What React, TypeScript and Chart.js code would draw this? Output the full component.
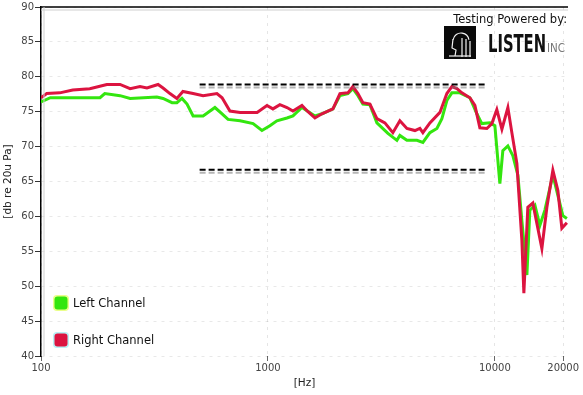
import React, { useEffect, useRef } from "react";
import { Chart, registerables } from "chart.js";

Chart.register(...registerables);

// ---- data ----
const xTickValues = [100, 1000, 10000, 20000];
const xMin = 100;
const xMax = 21000;
const yMin = 40;
const yMax = 90;
const yStep = 5;

const rightFreq = [100, 106, 121, 138, 164, 195, 223, 247, 273, 293, 328, 345, 370, 397, 422, 468, 518, 596, 628, 680, 754, 896, 990, 1052, 1129, 1213, 1289, 1412, 1501, 1611, 1730, 1934, 2076, 2251, 2368, 2492, 2621, 2814, 3021, 3276, 3552, 3814, 4096, 4443, 4673, 4817, 5172, 5726, 6144, 6463, 6803, 7156, 7761, 8164, 8588, 9220, 9700, 10200, 10740, 11410, 11880, 12500, 13150, 13420, 13970, 14700, 16110, 16950, 18010, 18950, 19730, 20760];
const rightDb = [77.0, 77.6, 77.7, 78.1, 78.3, 78.9, 78.9, 78.3, 78.6, 78.4, 78.9, 78.4, 77.6, 76.9, 77.9, 77.6, 77.3, 77.6, 77.0, 75.1, 74.9, 74.9, 75.9, 75.4, 76.0, 75.6, 75.1, 75.9, 75.0, 74.1, 74.7, 75.4, 77.6, 77.7, 78.6, 77.6, 76.3, 76.1, 74.0, 73.4, 72.0, 73.7, 72.6, 72.3, 72.6, 72.0, 73.4, 74.9, 77.6, 78.6, 78.3, 77.7, 77.0, 75.9, 72.7, 72.6, 73.3, 75.3, 72.5, 75.6, 72.0, 67.6, 56.6, 49.0, 61.3, 61.9, 55.4, 61.3, 66.6, 63.7, 58.3, 59.1];

const leftFreq = [100, 110, 182, 191, 223, 247, 324, 345, 378, 397, 418, 440, 468, 518, 584, 628, 667, 754, 860, 941, 1020, 1095, 1213, 1289, 1412, 1611, 1730, 1934, 2076, 2251, 2368, 2492, 2621, 2814, 3021, 3378, 3701, 3814, 4096, 4534, 4817, 5172, 5553, 5841, 6144, 6463, 7010, 7761, 8330, 8760, 9510, 10000, 10520, 10840, 11410, 12000, 12630, 13150, 13840, 14260, 15010, 15780, 16610, 18010, 18950, 19930, 20760];
const leftDb = [76.4, 77.0, 77.0, 77.6, 77.3, 76.9, 77.1, 76.9, 76.3, 76.3, 76.9, 76.1, 74.4, 74.4, 75.6, 74.7, 73.9, 73.7, 73.3, 72.3, 73.0, 73.7, 74.1, 74.4, 75.6, 74.4, 74.7, 75.4, 77.3, 77.6, 78.3, 77.3, 76.1, 76.0, 73.4, 71.9, 70.9, 71.6, 70.9, 70.9, 70.6, 72.0, 72.6, 74.0, 76.6, 77.7, 77.7, 77.0, 74.7, 73.3, 73.4, 73.0, 64.7, 69.4, 70.1, 68.7, 65.9, 59.4, 51.6, 60.9, 61.6, 58.7, 60.9, 65.9, 63.0, 60.1, 59.7];

const limitFreq = [500, 9200];
const upperLimit = [78.9, 78.9];
const lowerLimit = [66.7, 66.7];

const legendLabels = ["Left Channel", "Right Channel"];
const logoCaption = "Testing Powered by:";
const logoName = "LISTEN";
const logoSuffix = "INC";
const xTitle = "[Hz]";
const yTitle = "[db re 20u Pa]";

// ---- styles ----
const GREEN = "#33e60f";
const RED = "#dc1440";
const FONT = "'DejaVu Sans', Verdana, sans-serif";

const toPoints = (xs: number[], ys: number[]) => xs.map((x, i) => ({ x, y: ys[i] }));

const overlayPlugin = {
  id: "overlay",
  beforeDatasetDraw(chart: any, args: any) {
    const ds = chart.data.datasets[args.index];
    if (ds.isLimit) {
      const ctx = chart.ctx;
      ctx.save();
      ctx.shadowColor = "rgba(120,120,120,0.55)";
      ctx.shadowOffsetY = 3;
      ctx.shadowOffsetX = 0;
      ctx.shadowBlur = 0;
    }
  },
  afterDatasetDraw(chart: any, args: any) {
    const ds = chart.data.datasets[args.index];
    if (ds.isLimit) chart.ctx.restore();
  },
  afterDraw(chart: any) {
    const { ctx, chartArea: ca } = chart;
    ctx.save();
    // top frame line
    ctx.strokeStyle = "#000";
    ctx.lineWidth = 1.5;
    ctx.beginPath();
    ctx.moveTo(ca.left, ca.top);
    ctx.lineTo(ca.right, ca.top);
    ctx.stroke();
    ctx.strokeStyle = "#cfcfcf";
    ctx.lineWidth = 1;
    ctx.beginPath();
    ctx.moveTo(ca.left, ca.top + 3);
    ctx.lineTo(ca.right, ca.top + 3);
    ctx.stroke();
    ctx.beginPath();
    ctx.moveTo(ca.left + 3, ca.top);
    ctx.lineTo(ca.left + 3, ca.bottom);
    ctx.stroke();

    // legend
    const items = [
      { label: legendLabels[0], color: GREEN, halo: "#eaff8a" },
      { label: legendLabels[1], color: RED, halo: "#b8f0f4" },
    ];
    items.forEach((it, i) => {
      const cy = ca.bottom - 53 + i * 37;
      const cx = ca.left + 20;
      ctx.fillStyle = it.halo;
      ctx.beginPath();
      ctx.roundRect(cx - 8, cy - 8, 16, 16, 4);
      ctx.fill();
      ctx.fillStyle = it.color;
      ctx.beginPath();
      ctx.roundRect(cx - 6.5, cy - 6.5, 13, 13, 3);
      ctx.fill();
      ctx.fillStyle = "#111";
      ctx.font = `11.5px ${FONT}`;
      ctx.textAlign = "left";
      ctx.textBaseline = "middle";
      ctx.fillText(it.label, ca.left + 32, cy + 1);
    });

    // logo
    const r = ca.right;
    ctx.fillStyle = "#111";
    ctx.font = `11.5px ${FONT}`;
    ctx.textAlign = "right";
    ctx.textBaseline = "middle";
    ctx.fillText(logoCaption, r - 1, 20);

    const bx = r - 124, by = 26, bw = 32, bh = 33;
    ctx.fillStyle = "#0a0a0a";
    ctx.fillRect(bx, by, bw, bh);
    ctx.strokeStyle = "#f4f4f4";
    ctx.lineWidth = 1.2;
    ctx.beginPath();
    ctx.arc(bx + 17, by + 15, 8, Math.PI * 1.05, Math.PI * 1.95);
    ctx.stroke();
    ctx.beginPath();
    ctx.moveTo(bx + 9, by + 13);
    ctx.lineTo(bx + 8, by + 22);
    ctx.lineTo(bx + 12, by + 24);
    ctx.lineTo(bx + 11, by + 30);
    ctx.stroke();
    ctx.beginPath();
    ctx.moveTo(bx + 18, by + 12);
    ctx.lineTo(bx + 18, by + 31);
    ctx.moveTo(bx + 22, by + 13);
    ctx.lineTo(bx + 22, by + 31);
    ctx.moveTo(bx + 26, by + 15);
    ctx.lineTo(bx + 26, by + 31);
    ctx.stroke();
    ctx.beginPath();
    ctx.moveTo(bx + 5, by + 30);
    ctx.lineTo(bx + 27, by + 30);
    ctx.stroke();

    // LISTEN text, condensed to fit
    ctx.fillStyle = "#111";
    ctx.font = `bold 24px 'DejaVu Sans Condensed', ${FONT}`;
    ctx.textAlign = "left";
    ctx.textBaseline = "alphabetic";
    const w = ctx.measureText(logoName).width;
    const target = 58;
    ctx.save();
    ctx.translate(r - 80, 52);
    ctx.scale(target / w, 1);
    ctx.fillText(logoName, 0, 0);
    ctx.restore();
    ctx.fillStyle = "#777";
    ctx.font = `9px ${FONT}`;
    const w2 = ctx.measureText(logoSuffix).width;
    ctx.save();
    ctx.translate(r - 21, 52);
    ctx.scale(18 / w2, 1.3);
    ctx.fillText(logoSuffix, 0, 0);
    ctx.restore();

    ctx.restore();
  },
};

export default function App() {
  const ref = useRef<HTMLCanvasElement | null>(null);

  useEffect(() => {
    if (!ref.current) return;
    const chart = new Chart(ref.current, {
      type: "line",
      data: {
        datasets: [
          {
            label: "upper",
            isLimit: true,
            data: toPoints(limitFreq, upperLimit),
            borderColor: "#000",
            borderWidth: 2,
            borderDash: [6, 3],
            pointRadius: 0,
            order: 0,
          } as any,
          {
            label: "lower",
            isLimit: true,
            data: toPoints(limitFreq, lowerLimit),
            borderColor: "#000",
            borderWidth: 2,
            borderDash: [6, 3],
            pointRadius: 0,
            order: 0,
          } as any,
          {
            label: legendLabels[1],
            data: toPoints(rightFreq, rightDb),
            borderColor: RED,
            borderWidth: 3,
            pointRadius: 0,
            tension: 0,
            order: 1,
          },
          {
            label: legendLabels[0],
            data: toPoints(leftFreq, leftDb),
            borderColor: GREEN,
            borderWidth: 3,
            pointRadius: 0,
            tension: 0,
            order: 2,
          },
        ],
      },
      options: {
        animation: false,
        responsive: false,
        layout: { padding: { top: 6, right: 15, left: 0, bottom: 0 } },
        plugins: { legend: { display: false }, tooltip: { enabled: false } },
        scales: {
          x: {
            type: "logarithmic",
            min: xMin,
            max: xMax,
            afterBuildTicks: (scale: any) => {
              scale.ticks = xTickValues.map((v) => ({ value: v }));
            },
            afterFit: (scale: any) => {
              scale.height = 39;
            },
            ticks: {
              autoSkip: false,
              maxRotation: 0,
              padding: 1,
              color: "#444",
              font: { family: FONT, size: 10 },
              callback: (v: any) => String(v),
            },
            grid: {
              color: "rgba(0,0,0,0.10)",
              tickColor: "#666",
              tickLength: 5,
              lineWidth: 1,
            },
            border: { display: false, dash: [3, 5] },
            title: {
              display: true,
              text: xTitle,
              color: "#222",
              font: { family: FONT, size: 10.5 },
              padding: { top: 0, bottom: 5 },
            },
          },
          y: {
            min: yMin,
            max: yMax,
            afterFit: (scale: any) => {
              scale.width = 41;
            },
            ticks: {
              stepSize: yStep,
              padding: 1,
              color: "#444",
              font: { family: FONT, size: 10 },
            },
            grid: {
              color: "rgba(0,0,0,0.09)",
              tickColor: "#333",
              tickLength: 6,
              lineWidth: 1,
            },
            border: { display: true, color: "#000", width: 1.5, dash: [3, 5] },
            title: {
              display: true,
              text: yTitle,
              color: "#222",
              font: { family: FONT, size: 10.5 },
              padding: { top: 2, bottom: 0 },
            },
          },
        },
      },
      plugins: [overlayPlugin],
    } as any);
    return () => chart.destroy();
  }, []);

  return (
    <div style={{ position: "fixed", left: 0, top: 0, width: 583, height: 395, background: "#fff" }}>
      <canvas ref={ref} width={583} height={395} style={{ display: "block" }} />
    </div>
  );
}
